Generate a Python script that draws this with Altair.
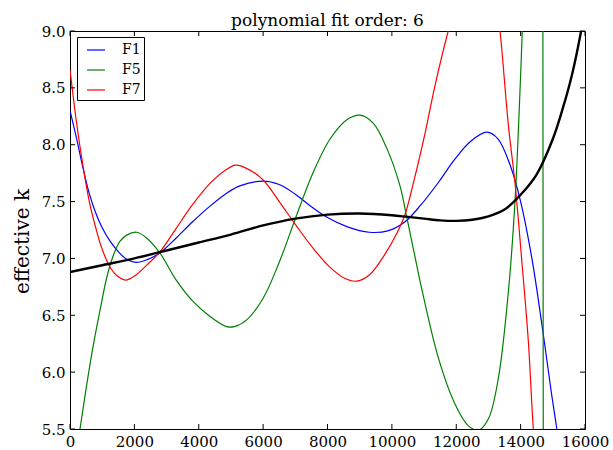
import altair as alt
import pandas as pd

# ---- data ----
title_text = "polynomial fit order: 6"
x_ticks = [0, 2000, 4000, 6000, 8000, 10000, 12000, 14000, 16000]
y_ticks = [5.5, 6.0, 6.5, 7.0, 7.5, 8.0, 8.5, 9.0]
series_names = ["F1", "F5", "F7"]
series_colors = ["#0000ff", "#008000", "#ff0000"]

f1_x = [0, 200, 400, 600, 800, 1000, 1250, 1500, 1750, 2050, 2400, 2800, 3300, 3800, 4350,
        4900, 5300, 6000, 6500, 7000, 7500, 8000, 8600, 9300, 9900, 10400, 10900, 11450,
        11950, 12450, 12950, 13300, 13700, 14000, 14350, 14650, 14950, 15150, 15400]
f1_y = [8.30, 8.06, 7.80, 7.57, 7.40, 7.27, 7.15, 7.06, 6.995, 6.965, 6.99, 7.05, 7.18, 7.32, 7.46,
        7.58, 7.64, 7.68, 7.65, 7.565, 7.455, 7.36, 7.28, 7.23, 7.245, 7.32, 7.47, 7.67,
        7.87, 8.03, 8.11, 8.05, 7.80, 7.50, 7.00, 6.44, 5.83, 5.45, 4.90]

f5_x = [0, 300, 520, 725, 930, 1140, 1350, 1550, 1760, 2070, 2380, 2800, 3300, 3830, 4350,
        4870, 5100, 5490, 6000, 6520, 7040, 7560, 8080, 8600, 9010, 9420, 9840, 10250, 10450,
        10700, 10930, 11440, 11960, 12370, 12690, 13000, 13310, 13620, 13825, 13980, 14050,
        14200, 14400, 14655, 14665]
f5_y = [4.85, 5.48, 5.89, 6.24, 6.54, 6.83, 7.03, 7.15, 7.205, 7.23, 7.18, 7.045, 6.81, 6.62, 6.49,
        6.40, 6.40, 6.46, 6.65, 6.98, 7.38, 7.76, 8.05, 8.22, 8.26, 8.19, 7.97, 7.64, 7.38,
        7.04, 6.73, 6.13, 5.72, 5.53, 5.49, 5.59, 5.95, 6.71, 7.50, 8.47, 9.00,
        10.5, 13.0, 20.0, -10.0]

f7_x = [0, 200, 400, 600, 800, 1000, 1250, 1450, 1750, 2050, 2400, 2800, 3300, 3800, 4350,
        4850, 5150, 5500, 6000, 6500, 7000, 7550, 8050, 8500, 8900, 9300, 9700, 10150, 10400,
        10700, 11030, 11340, 11750, 12100, 12500, 12900, 13200, 13360, 13620, 13830, 14030,
        14240, 14400, 14700]
f7_y = [8.66, 8.20, 7.82, 7.50, 7.27, 7.08, 6.92, 6.85, 6.81, 6.855, 6.945, 7.06, 7.265, 7.47, 7.66,
        7.78, 7.82, 7.79, 7.69, 7.50, 7.30, 7.09, 6.93, 6.83, 6.80, 6.855, 7.00, 7.22, 7.38,
        7.70, 8.10, 8.52, 9.00, 9.35, 9.60, 9.60, 9.35, 9.00, 8.17, 7.65, 7.00,
        6.27, 5.48, 4.50]

fit_x = [0, 1000, 2000, 3000, 4000, 5000, 6000, 7000, 8000, 9000, 10000, 10500, 11000, 11500,
         12000, 12500, 13000, 13500, 14000, 14500, 15000, 15300, 15600, 15900, 16000]
fit_y = [6.88, 6.94, 7.00, 7.07, 7.14, 7.21, 7.29, 7.35, 7.385, 7.395, 7.38, 7.365, 7.35, 7.335,
         7.33, 7.34, 7.37, 7.43, 7.56, 7.74, 8.05, 8.31, 8.62, 9.03, 9.20]

# ---- tables ----
rows = []
for name, xs, ys in [("F1", f1_x, f1_y), ("F5", f5_x, f5_y), ("F7", f7_x, f7_y)]:
    rows += [{"series": name, "x": a, "y": b} for a, b in zip(xs, ys)]
df = pd.DataFrame(rows)
fit_df = pd.DataFrame({"x": fit_x, "y": fit_y})
xt_df = pd.DataFrame({"x": x_ticks})
yt_df = pd.DataFrame({"y": y_ticks})
title_df = pd.DataFrame({"t": [title_text]})

FONT = "DejaVu Serif"
W, H = 515, 398
xscale = alt.Scale(domain=[0, 16000], nice=False, zero=False)
yscale = alt.Scale(domain=[5.5, 9.0], nice=False, zero=False)

colored = alt.Chart(df).mark_line(clip=True, strokeWidth=1.2, interpolate="catmull-rom").encode(
    x=alt.X("x:Q", scale=xscale,
            axis=alt.Axis(values=x_ticks, format="d", title=None, labelFlush=False,
                          labelOverlap=False)),
    y=alt.Y("y:Q", scale=yscale,
            axis=alt.Axis(values=y_ticks, format=".1f", title="effective k",
                          labelOverlap=False, titleX=-38, titleY=210, titleAngle=270,
                          titleBaseline="bottom", titleAlign="center")),
    color=alt.Color("series:N",
                    scale=alt.Scale(domain=series_names, range=series_colors),
                    legend=alt.Legend(title=None, orient="none", legendX=7, legendY=6,
                                      symbolType="stroke", symbolSize=324,
                                      symbolStrokeWidth=1.2, padding=3, symbolOffset=6,
                                      labelOffset=16, rowPadding=3, labelFont=FONT,
                                      labelFontSize=14, labelColor="black",
                                      strokeColor="black", fillColor="white")),
    detail="series:N",
)

fit = alt.Chart(fit_df).mark_line(clip=True, strokeWidth=2.4, color="black",
                                  interpolate="catmull-rom").encode(
    x=alt.X("x:Q", scale=xscale),
    y=alt.Y("y:Q", scale=yscale),
)

tick_len = 5
xt_bottom = alt.Chart(xt_df).mark_rule(color="black", strokeWidth=1).encode(
    x=alt.X("x:Q", scale=xscale), y=alt.value(H), y2=alt.value(H - tick_len))
xt_top = alt.Chart(xt_df).mark_rule(color="black", strokeWidth=1).encode(
    x=alt.X("x:Q", scale=xscale), y=alt.value(0), y2=alt.value(tick_len))
yt_left = alt.Chart(yt_df).mark_rule(color="black", strokeWidth=1).encode(
    y=alt.Y("y:Q", scale=yscale), x=alt.value(0), x2=alt.value(tick_len))
yt_right = alt.Chart(yt_df).mark_rule(color="black", strokeWidth=1).encode(
    y=alt.Y("y:Q", scale=yscale), x=alt.value(W - tick_len), x2=alt.value(W))

title_mark = alt.Chart(title_df).mark_text(
    font=FONT, fontSize=17, fontWeight="normal", color="black",
    align="center", baseline="alphabetic"
).encode(text="t:N", x=alt.value(W / 2), y=alt.value(-5))

chart = alt.layer(colored, fit, xt_bottom, xt_top, yt_left, yt_right, title_mark).properties(
    width=W, height=H,
    background="white",
    autosize=alt.AutoSizeParams(type="none"),
    padding={"left": 70, "top": 31, "right": 28, "bottom": 21},
).configure_view(
    stroke="black", strokeWidth=1
).configure_axis(
    domain=False, ticks=False, tickSize=0, grid=False,
    labelFont=FONT, labelFontSize=15, labelColor="black", labelPadding=5,
    titleFont=FONT, titleFontSize=20, titleFontWeight="normal", titleColor="black",
)

chart.save("out.html", embed_options={"renderer": "svg", "actions": False})
